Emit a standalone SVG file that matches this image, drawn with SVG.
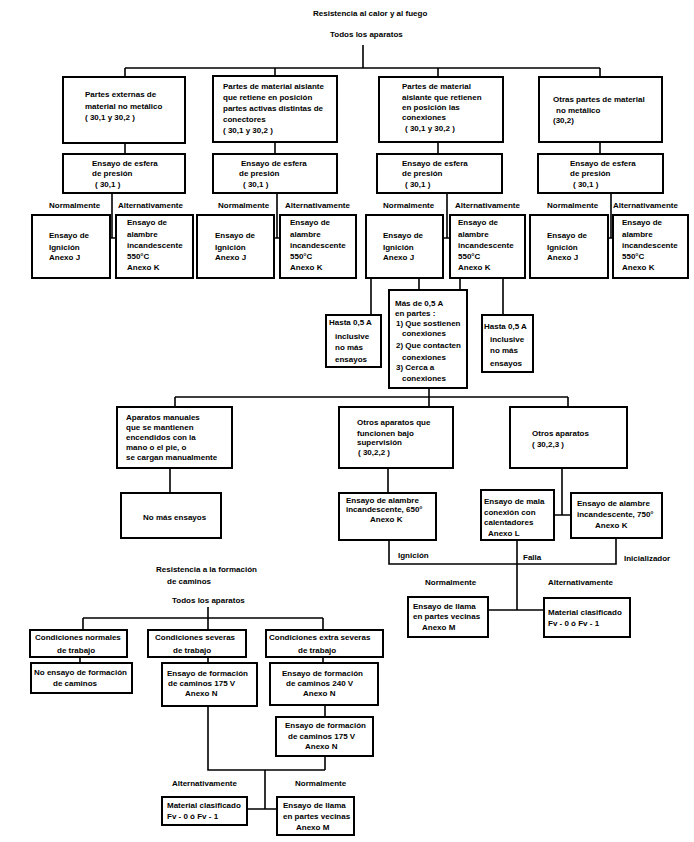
<svg xmlns="http://www.w3.org/2000/svg" width="694" height="842" viewBox="0 0 694 842">
<style>
.b{fill:#fff;stroke:#000;stroke-width:2}
.c{fill:none;stroke:#000;stroke-width:1.6}
text{font-family:"Liberation Sans",Arial,sans-serif;font-size:8px;font-weight:bold;fill:#000}
</style>
<rect width="694" height="842" fill="#fff"/>
<g id="connectors">
<path class="c" d="M363,45V68M125,68H600M125,68V77M275,68V76M438,68V77M600,68V77"/>
<path class="c" d="M125,143V154M275,142V154M438,142V154M600,142V154"/>
<path class="c" d="M112,193V238M110,238H116M277,193V238M274,238H280M447,193V238M443,238H450M611,193V238M608,238H613"/>
<path class="c" d="M371,278V315M419,278V290M460,278V290M503,278V315"/>
<path class="c" d="M429,388V407M175,397H568M175,397V407M568,397V407"/>
<path class="c" d="M170,468V493M388,468V493M562,468V515M554,515H571"/>
<path class="c" d="M389,540V564H616V538M517,540V610M488,610H544"/>
<path class="c" d="M208,607V630M83,618H323M83,618V630M323,618V630M80,657V663M208,657V663M323,657V663"/>
<path class="c" d="M208,706V770H325M325,705V717M325,756V770M247,809H277"/>
<path class="c" stroke-width="2.5" d="M265,770V809"/>
</g>
<g id="title1"><text x="313" y="16">Resistencia al calor y al fuego</text><text x="330" y="37">Todos los aparatos</text></g>
<g id="n1"><rect class="b" x="63" y="77" width="122" height="66"/><text x="85" y="97">Partes externas de</text><text x="85" y="109">material no metálico</text><text x="85" y="120">( 30,1 y 30,2 )</text></g>
<g id="n2"><rect class="b" x="213" y="76" width="124" height="66"/><text x="223" y="89">Partes de material aislante</text><text x="223" y="100">que retiene en posición</text><text x="223" y="111">partes activas distintas de</text><text x="223" y="122">conectores</text><text x="223" y="133">( 30,1 y 30,2 )</text></g>
<g id="n3"><rect class="b" x="379" y="77" width="124" height="65"/><text x="402" y="89">Partes de material</text><text x="402" y="100">aislante que retienen</text><text x="402" y="110">en posición las</text><text x="402" y="120">conexiones</text><text x="405" y="131">( 30,1 y 30,2 )</text></g>
<g id="n4"><rect class="b" x="539" y="77" width="123" height="65"/><text x="553" y="102">Otras partes de material</text><text x="556" y="113">no metálico</text><text x="553" y="123">(30,2)</text></g>
<g id="e1"><rect class="b" x="63" y="154" width="122" height="39"/><text x="92" y="166">Ensayo de esfera</text><text x="92" y="176">de presión</text><text x="95" y="187">( 30,1 )</text></g>
<g id="e2"><rect class="b" x="213" y="154" width="124" height="39"/><text x="241" y="166">Ensayo de esfera</text><text x="239" y="176">de presión</text><text x="243" y="187">( 30,1 )</text></g>
<g id="e3"><rect class="b" x="377" y="154" width="125" height="39"/><text x="402" y="166">Ensayo de esfera</text><text x="402" y="176">de presión</text><text x="405" y="187">( 30,1 )</text></g>
<g id="e4"><rect class="b" x="538" y="154" width="125" height="39"/><text x="570" y="166">Ensayo de esfera</text><text x="570" y="176">de presión</text><text x="573" y="187">( 30,1 )</text></g>
<g id="labels1"><text x="49" y="208">Normalmente</text><text x="118" y="208">Alternativamente</text><text x="218" y="208">Normalmente</text><text x="285" y="208">Alternativamente</text><text x="383" y="208">Normalmente</text><text x="455" y="208">Alternativamente</text><text x="547" y="208">Normalmente</text><text x="613" y="208">Alternativamente</text></g>
<g id="i1"><rect class="b" x="32" y="215" width="78" height="63"/><text x="49" y="238">Ensayo de</text><text x="49" y="250">Ignición</text><text x="49" y="260">Anexo J</text></g>
<g id="k1"><rect class="b" x="116" y="215" width="77" height="63"/><text x="127" y="225">Ensayo  de</text><text x="127" y="237">alambre</text><text x="127" y="248">incandescente</text><text x="127" y="259">550°C</text><text x="127" y="270">Anexo K</text></g>
<g id="i2"><rect class="b" x="197" y="215" width="77" height="63"/><text x="215" y="238">Ensayo de</text><text x="215" y="250">Ignición</text><text x="215" y="260">Anexo J</text></g>
<g id="k2"><rect class="b" x="280" y="215" width="76" height="63"/><text x="290" y="225">Ensayo  de</text><text x="290" y="237">alambre</text><text x="290" y="248">incandescente</text><text x="290" y="259">550°C</text><text x="290" y="270">Anexo K</text></g>
<g id="i3"><rect class="b" x="366" y="215" width="77" height="63"/><text x="383" y="238">Ensayo de</text><text x="383" y="250">Ignición</text><text x="383" y="260">Anexo J</text></g>
<g id="k3"><rect class="b" x="450" y="215" width="75" height="63"/><text x="458" y="225">Ensayo  de</text><text x="458" y="237">alambre</text><text x="458" y="248">incandescente</text><text x="458" y="259">550°C</text><text x="458" y="270">Anexo K</text></g>
<g id="i4"><rect class="b" x="530" y="215" width="78" height="63"/><text x="547" y="238">Ensayo de</text><text x="547" y="250">Ignición</text><text x="547" y="260">Anexo J</text></g>
<g id="k4"><rect class="b" x="613" y="215" width="75" height="63"/><text x="622" y="225">Ensayo  de</text><text x="622" y="237">alambre</text><text x="622" y="248">incandescente</text><text x="622" y="259">550°C</text><text x="622" y="270">Anexo K</text></g>
<g id="h1"><rect class="b" x="326" y="315" width="55" height="52"/><text x="329" y="325">Hasta 0,5 A</text><text x="335" y="339">inclusive</text><text x="335" y="350">no más</text><text x="335" y="362">ensayos</text></g>
<g id="m1"><rect class="b" x="389" y="290" width="78" height="98"/><text x="395" y="306">Más de 0,5 A</text><text x="395" y="316">en partes :</text><text x="396" y="326">1) Que sostienen</text><text x="402" y="336">conexiones</text><text x="396" y="348">2) Que contacten</text><text x="402" y="360">conexiones</text><text x="396" y="370">3) Cerca a</text><text x="402" y="381">conexiones</text></g>
<g id="h2"><rect class="b" x="482" y="315" width="51" height="57"/><text x="484" y="329">Hasta 0,5 A</text><text x="490" y="342">inclusive</text><text x="490" y="353">no más</text><text x="490" y="366">ensayos</text></g>
<g id="a1"><rect class="b" x="117" y="407" width="115" height="61"/><text x="126" y="420">Aparatos manuales</text><text x="126" y="430">que se mantienen</text><text x="126" y="440">encendidos con la</text><text x="126" y="450">mano o el pie, o</text><text x="126" y="460">se cargan manualmente</text></g>
<g id="a1n"><rect class="b" x="121" y="493" width="100" height="45"/><text x="143" y="520">No más ensayos</text></g>
<g id="a2"><rect class="b" x="339" y="407" width="114" height="61"/><text x="357" y="425">Otros aparatos que</text><text x="357" y="436">funcionen bajo</text><text x="357" y="445">supervisión</text><text x="358" y="455">( 30,2,2 )</text></g>
<g id="a2k"><rect class="b" x="339" y="493" width="97" height="47"/><text x="346" y="503">Ensayo de alambre</text><text x="346" y="512">incandescente, 650°</text><text x="370" y="522">Anexo K</text></g>
<g id="a3"><rect class="b" x="510" y="407" width="117" height="61"/><text x="532" y="436">Otros aparatos</text><text x="532" y="447">( 30,2,3 )</text></g>
<g id="a3l"><rect class="b" x="481" y="490" width="73" height="50"/><text x="484" y="504">Ensayo de mala</text><text x="484" y="515">conexión con</text><text x="484" y="525">calentadores</text><text x="488" y="536">Anexo L</text></g>
<g id="a3k"><rect class="b" x="571" y="493" width="91" height="45"/><text x="577" y="506">Ensayo de alambre</text><text x="577" y="517">incandescente, 750°</text><text x="595" y="528">Anexo K</text></g>
<g id="labels2"><text x="398" y="558">Ignición</text><text x="523" y="560">Falla</text><text x="624" y="561">Inicializador</text><text x="425" y="585">Normalmente</text><text x="548" y="585">Alternativamente</text></g>
<g id="f1"><rect class="b" x="408" y="597" width="80" height="40"/><text x="413" y="609">Ensayo de llama</text><text x="413" y="619">en partes vecinas</text><text x="422" y="630">Anexo M</text></g>
<g id="mc1"><rect class="b" x="544" y="598" width="86" height="39"/><text x="548" y="615">Material clasificado</text><text x="548" y="626">Fv - 0 ó Fv - 1</text></g>
<g id="title2"><text x="156" y="572">Resistencia a la formación</text><text x="167" y="584">de caminos</text><text x="172" y="603">Todos los aparatos</text></g>
<g id="cn"><rect class="b" x="30" y="630" width="97" height="27"/><text x="35" y="640">Condiciones normales</text><text x="57" y="653">de trabajo</text></g>
<g id="ne"><rect class="b" x="31" y="663" width="101" height="30"/><text x="34" y="675">No ensayo de formación</text><text x="53" y="686">de caminos</text></g>
<g id="cs"><rect class="b" x="148" y="630" width="98" height="27"/><text x="155" y="640">Condiciones severas</text><text x="173" y="653">de trabajo</text></g>
<g id="t175a"><rect class="b" x="162" y="663" width="95" height="43"/><text x="167" y="676">Ensayo de formación</text><text x="168" y="686">de caminos 175 V</text><text x="185" y="696">Anexo N</text></g>
<g id="ces"><rect class="b" x="266" y="630" width="117" height="27"/><text x="269" y="640">Condiciones extra severas</text><text x="298" y="653">de trabajo</text></g>
<g id="t240"><rect class="b" x="270" y="663" width="108" height="42"/><text x="282" y="676">Ensayo de formación</text><text x="286" y="686">de caminos 240 V</text><text x="303" y="696">Anexo N</text></g>
<g id="t175b"><rect class="b" x="276" y="717" width="97" height="39"/><text x="285" y="728">Ensayo de formación</text><text x="288" y="739">de caminos 175 V</text><text x="305" y="749">Anexo N</text></g>
<g id="labels3"><text x="172" y="786">Alternativamente</text><text x="295" y="786">Normalmente</text></g>
<g id="mc2"><rect class="b" x="162" y="797" width="85" height="28"/><text x="167" y="808">Material clasificado</text><text x="167" y="819">Fv - 0 ó Fv - 1</text></g>
<g id="f2"><rect class="b" x="277" y="797" width="77" height="38"/><text x="283" y="808">Ensayo de llama</text><text x="283" y="819">en partes vecinas</text><text x="296" y="830">Anexo M</text></g>
</svg>
